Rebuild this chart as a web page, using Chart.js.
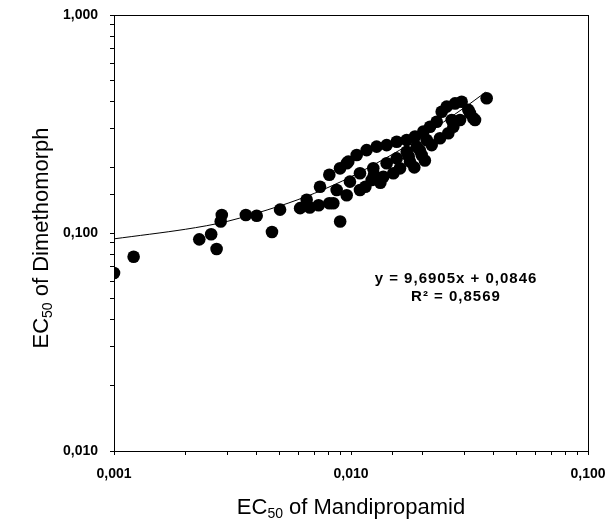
<!DOCTYPE html>
<html>
<head>
<meta charset="utf-8">
<script src="https://cdn.jsdelivr.net/npm/chart.js@4/dist/chart.umd.min.js"></script>
<style>
  html, body { margin: 0; padding: 0; background: #fff; }
  #wrap { width: 607px; height: 526px; position: relative; }
</style>
</head>
<body>
<div id="wrap"><canvas id="chart"></canvas></div>
<script>
// EC50 values
const mandiX = [
    0.00100, 0.00121, 0.00229, 0.00257, 0.00271, 0.00285, 0.00282, 0.00360, 0.00400, 0.00464,
    0.00502, 0.00610, 0.00670, 0.00730, 0.00900, 0.00810, 0.00740, 0.00810, 0.00960, 0.00650,
    0.00899, 0.00974, 0.01057, 0.01164, 0.01283, 0.01414, 0.01559, 0.01718, 0.01862, 0.02020,
    0.02155, 0.02299,
    0.00870, 0.00990, 0.01091, 0.01242, 0.01414, 0.01559, 0.01718, 0.01893, 0.02086,
    0.00842, 0.00959, 0.01091, 0.01223, 0.01369, 0.01509, 0.01610, 0.01774, 0.01987, 0.02190,
    0.02374, 0.02574, 0.02703, 0.02884, 0.03178, 0.03283,
    0.02413, 0.02533, 0.02747, 0.02930, 0.03736, 0.03127, 0.03337, 0.02660,
    0.01150, 0.01330, 0.01850, 0.02050, 0.01250, 0.01750, 0.01950
];
const dimethY = [
    0.0655, 0.0778, 0.0935, 0.0987, 0.0845, 0.121, 0.113, 0.121, 0.120, 0.101,
    0.128, 0.130, 0.131, 0.134, 0.113, 0.137, 0.163, 0.185, 0.209, 0.142,
    0.198, 0.2125, 0.228, 0.240, 0.249, 0.253, 0.262, 0.267, 0.277, 0.292,
    0.307, 0.324,
    0.1575, 0.172, 0.188, 0.198, 0.209, 0.220, 0.236, 0.249, 0.267,
    0.137, 0.149, 0.1575, 0.175, 0.181, 0.188, 0.198, 0.2125, 0.228, 0.253,
    0.272, 0.287, 0.307, 0.330, 0.354, 0.336,
    0.360, 0.380, 0.393, 0.400, 0.415, 0.367, 0.330, 0.330,
    0.163, 0.170, 0.200, 0.215, 0.185, 0.225, 0.240
];

// trend line
const trendX = [0.001, 0.002, 0.003, 0.005, 0.007, 0.010, 0.015, 0.020, 0.030, 0.037];
const trendY = [0.094, 0.104, 0.113, 0.133, 0.152, 0.181, 0.230, 0.278, 0.375, 0.443];

const eqLines = ["y = 9,6905x + 0,0846", "R² = 0,8569"];

const boldFamily = '"Liberation Sans", Arial, sans-serif';

function fmt(v) {
    const l = Math.log10(v);
    if (Math.abs(l - Math.round(l)) > 1e-6) return "";
    return v.toFixed(3).replace(".", ",");
}

// draws "EC" + subscript "50" + rest
function subTitle(ctx, x, y, rest, size) {
    const big = size + 'px "Liberation Sans", Arial, sans-serif';
    const small = Math.round(size * 0.62) + 'px "Liberation Sans", Arial, sans-serif';
    ctx.font = big; const w1 = ctx.measureText("EC").width;
    const w3 = ctx.measureText(rest).width;
    ctx.font = small; const w2 = ctx.measureText("50").width;
    let sx = x - (w1 + w2 + w3) / 2;
    ctx.textBaseline = "middle";
    ctx.textAlign = "left";
    ctx.font = big; ctx.fillText("EC", sx, y);
    ctx.font = small; ctx.fillText("50", sx + w1, y + size * 0.3);
    ctx.font = big; ctx.fillText(rest, sx + w1 + w2, y);
}

const decor = {
    id: "decor",
    afterDraw(chart) {
        const ctx = chart.ctx;
        const a = chart.chartArea;
        ctx.save();
        ctx.fillStyle = "#000";
        ctx.strokeStyle = "#000";
        ctx.lineWidth = 1;
        ctx.strokeRect(a.left + 0.5, a.top + 0.5, a.right - a.left, a.bottom - a.top);
        // axis titles
        subTitle(ctx, (a.left + a.right) / 2, 508, " of Mandipropamid", 22);
        ctx.save();
        ctx.translate(42, 238);
        ctx.rotate(-Math.PI / 2);
        subTitle(ctx, 0, 0, " of Dimethomorph", 22);
        ctx.restore();
        // equation
        ctx.font = "bold 15px " + boldFamily;
        ctx.letterSpacing = "1px";
        ctx.textAlign = "center";
        ctx.textBaseline = "middle";
        ctx.fillText(eqLines[0], 456, 279);
        ctx.fillText(eqLines[1], 456, 297);
        ctx.restore();
    }
};

new Chart(document.getElementById("chart"), {
    type: "scatter",
    data: {
        datasets: [{
            type: "line",
            data: trendX.map((x, i) => ({ x: x, y: trendY[i] })),
            borderColor: "#000",
            borderWidth: 1,
            pointRadius: 0,
            tension: 0.3,
            fill: false
        }, {
            data: mandiX.map((x, i) => ({ x: x, y: dimethY[i] })),
            backgroundColor: "#000",
            borderWidth: 0,
            pointRadius: 6.3,
            pointHoverRadius: 6.3
        }]
    },
    plugins: [decor],
    options: {
        responsive: true,
        maintainAspectRatio: false,
        animation: false,
        layout: { padding: { top: 15, right: 19, left: 0, bottom: 0 } },
        plugins: { legend: { display: false }, tooltip: { enabled: false } },
        scales: {
            x: {
                type: "logarithmic",
                min: 0.001, max: 0.1,
                afterFit: s => { s.height = 75; s.paddingLeft = 0; s.paddingRight = 0; },
                border: { display: true, color: "#000", width: 1 },
                grid: { display: true, drawOnChartArea: false, drawTicks: true, tickLength: 4, color: "#000" },
                ticks: {
                    autoSkip: false, maxRotation: 0, padding: 11,
                    color: "#000", font: { family: boldFamily, size: 14, weight: "bold" },
                    callback: v => fmt(v)
                }
            },
            y: {
                type: "logarithmic",
                min: 0.01, max: 1,
                afterFit: s => { s.width = 114; s.paddingTop = 0; s.paddingBottom = 0; },
                border: { display: true, color: "#000", width: 1 },
                grid: { display: true, drawOnChartArea: false, drawTicks: true, tickLength: 4, color: "#000" },
                ticks: {
                    autoSkip: false, padding: 12,
                    color: "#000", font: { family: boldFamily, size: 14, weight: "bold" },
                    callback: v => fmt(v)
                }
            }
        }
    }
});
</script>
</body>
</html>
